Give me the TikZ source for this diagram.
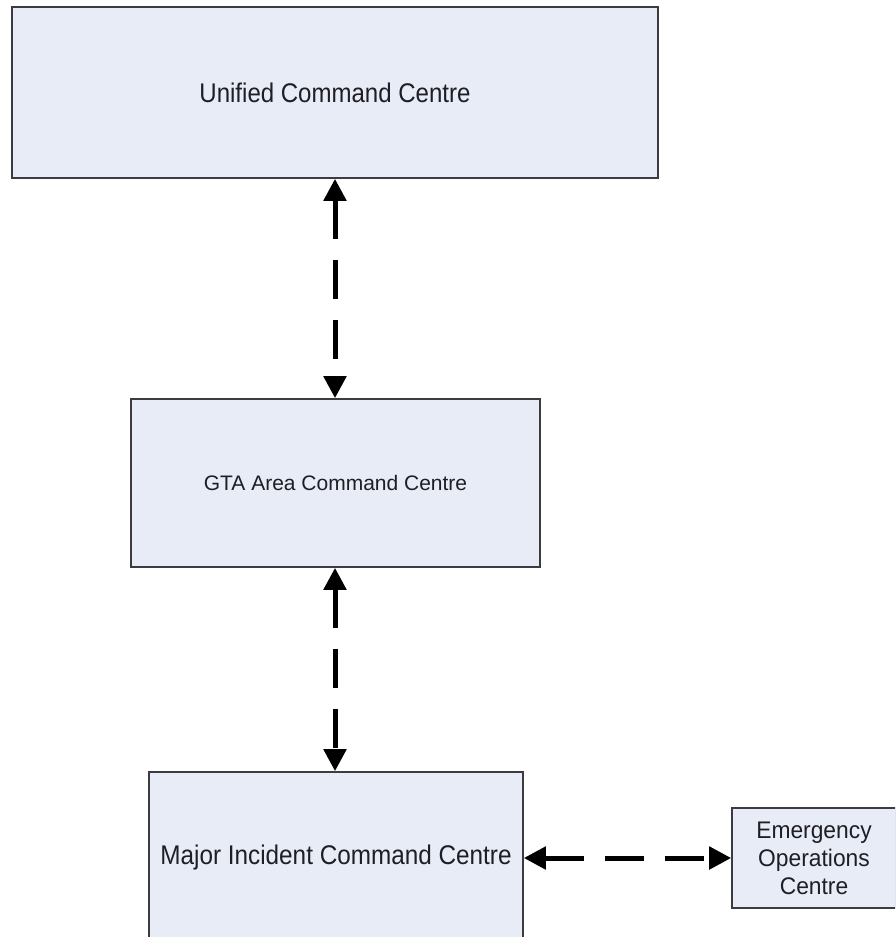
\documentclass[tikz,border=0pt]{standalone}
\usepackage{fontspec}
\setmainfont{Liberation Sans}
\usepackage{graphicx}
\usetikzlibrary{arrows.meta}
\definecolor{boxfill}{RGB}{232,236,247}
\definecolor{boxline}{RGB}{60,60,64}
\definecolor{txt}{RGB}{30,30,36}
\tikzset{
  cbox/.style={draw=boxline, line width=1.6pt, fill=boxfill, rectangle, inner sep=0pt,
    text=txt, align=center},
  link/.style={line width=5pt, dash pattern=on 39pt off 21pt,
    {Triangle[length=22pt,width=22pt]}-{Triangle[length=22pt,width=22pt]}}
}
\newcommand{\narrowtext}[2]{\scalebox{#1}[1]{#2}}
\begin{document}
\begin{tikzpicture}[x=1pt,y=-1pt]
\useasboundingbox (0,0) rectangle (895,937);
\clip (0,0) rectangle (895,937);
\node[cbox, minimum width=646pt, minimum height=171pt, font=\fontsize{27}{31}\selectfont] (ucc) at (335,92.5)
  {\narrowtext{0.89}{Unified Command Centre}};
\node[cbox, minimum width=409pt, minimum height=168pt, font=\fontsize{21}{25}\selectfont] (gta) at (335.5,483)
  {GTA Area Command Centre};
\node[cbox, minimum width=374pt, minimum height=172pt, font=\fontsize{27}{31}\selectfont] (mic) at (336,858)
  {\narrowtext{0.9}{Major Incident Command Centre}};
\node[cbox, minimum width=164pt, minimum height=100pt, font=\fontsize{24}{28}\selectfont] (eoc) at (814,858)
  {\narrowtext{0.95}{Emergency}\\\narrowtext{0.95}{Operations}\\\narrowtext{0.95}{Centre}};
\draw[link] (ucc.south -| 335,0) -- (gta.north -| 335,0);
\draw[link] (gta.south -| 335,0) -- (mic.north -| 335,0);
\draw[link] (mic.east) -- (eoc.west);
\end{tikzpicture}
\end{document}
